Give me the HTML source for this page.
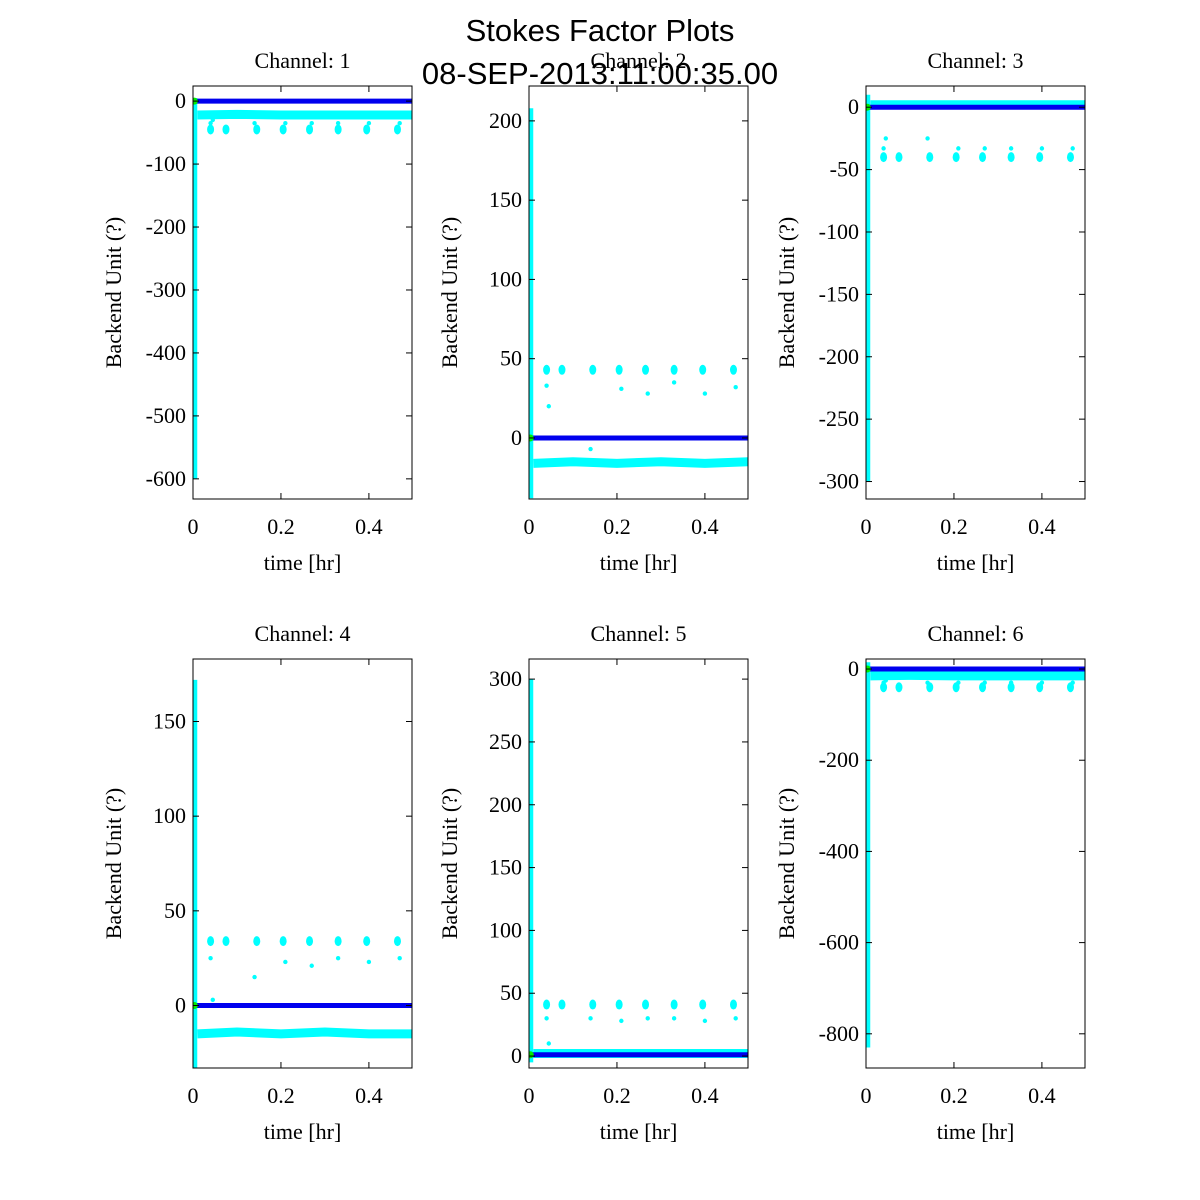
<!DOCTYPE html>
<html><head><meta charset="utf-8"><style>
body{margin:0;background:#fff;}
svg{display:block;}
</style></head><body>
<svg id="chart" width="1200" height="1200" viewBox="0 0 1200 1200" xmlns="http://www.w3.org/2000/svg">
<rect width="1200" height="1200" fill="#fff"/>
<text x="600" y="41" text-anchor="middle" font-family="Liberation Sans, sans-serif" font-size="31">Stokes Factor Plots</text>
<g id="panels"></g>
<text x="600" y="84" text-anchor="middle" font-family="Liberation Sans, sans-serif" font-size="31">08-SEP-2013:11:00:35.00</text>
</svg>
<script>
const channels = ["Channel: 1","Channel: 2","Channel: 3","Channel: 4","Channel: 5","Channel: 6"];
const yMins = [-632,-38.5,-314,-33,-9.5,-875];
const yMaxs = [24,222,17,183,316,22];
const yTicks = [[0,-100,-200,-300,-400,-500,-600],[200,150,100,50,0],[0,-50,-100,-150,-200,-250,-300],[150,100,50,0],[300,250,200,150,100,50,0],[0,-200,-400,-600,-800]];
const xTicks = [0,0.2,0.4];
const blueLevel = [0,0,0,0,1,0];
const baseTimes = [0.01,0.1,0.2,0.3,0.4,0.5];
const baseVals = [[-22,-21,-22,-22,-22,-22],[-16,-15,-16,-15,-16,-15],[2,2,2,2,2,2],[-15,-14,-15,-14,-15,-15],[2,2,2,2,2,2],[-15,-14,-15,-15,-15,-15]];
const spikeTop = [5,208,10,172,300,15];
const spikeBot = [-600,-38,-300,-33,-5,-830];
const clusterTimes = [0.04,0.075,0.145,0.205,0.265,0.33,0.395,0.465];
const clusterVals = [-45,43,-40,34,41,-40];
const outlierTimes = [0.04,0.045,0.14,0.21,0.27,0.33,0.4,0.47];
const outlierVals = [[-35,-30,-35,-35,-35,-35,-35,-35],[33,20,-7,31,28,35,28,32],[-33,-25,-25,-33,-33,-33,-33,-33],[25,3,15,23,21,25,23,25],[30,10,30,28,30,30,28,30],[-30,-25,-30,-30,-30,-30,-30,-30]];
const xMin=0, xMax=0.498;
const boxX=[193,529,866], boxW=219;
const boxY=[86,659], boxH=[413,409];
const NS="http://www.w3.org/2000/svg";
const root=document.getElementById('panels');
function mk(tag,attrs,parent){const e=document.createElementNS(NS,tag);for(const k in attrs)e.setAttribute(k,attrs[k]);parent.appendChild(e);return e;}
const serif="Liberation Serif, serif";
channels.forEach((ch,i)=>{
  const col=i%3,row=Math.floor(i/3);
  const L=boxX[col],T=boxY[row],W=boxW,H=boxH[row];
  const sx=v=>L+(v-xMin)/(xMax-xMin)*W;
  const sy=v=>T+(yMaxs[i]-v)/(yMaxs[i]-yMins[i])*H;
  const g=mk('g',{},root);
  
  
  const t=mk('text',{x:L+W/2,y:T-18,'text-anchor':'middle','font-family':serif,'font-size':22},g);
  
  
  t.textContent=ch;
  const clip='clip'+i;
  const cp=mk('clipPath',{id:clip},g);mk('rect',{x:L,y:T,width:W,height:H},cp);
  const pg=mk('g',{'clip-path':'url(#'+clip+')'},g);
  const pts=baseTimes.map((tt,k)=>sx(tt)+','+sy(baseVals[i][k])).join(' ');
  const bl=mk('polyline',{points:pts,fill:'none',stroke:'#00ffff','stroke-width':9},pg);
  
  
  const sp=mk('line',{x1:sx(0.004),x2:sx(0.004),y1:sy(spikeTop[i]),y2:sy(spikeBot[i]),stroke:'#00ffff','stroke-width':5},pg);
  
  
  clusterTimes.forEach(ct=>{
    const e=mk('ellipse',{cx:sx(ct),cy:sy(clusterVals[i]),rx:3.5,ry:5,fill:'#00ffff'},pg);
    
    
  });
  outlierTimes.forEach((ot,k)=>{
    const e=mk('circle',{cx:sx(ot),cy:sy(outlierVals[i][k]),r:2.2,fill:'#00ffff'},pg);
    
    
  });
  const bline=mk('line',{x1:sx(0.003),x2:L+W,y1:sy(blueLevel[i]),y2:sy(blueLevel[i]),stroke:'#0000ee','stroke-width':5},pg);
  
  
  const gm=mk('circle',{cx:sx(0.003),cy:sy(blueLevel[i]),r:3.5,fill:'#00ee00'},pg);
  
  
  const fr=mk('rect',{x:L,y:T,width:W,height:H,fill:'none',stroke:'#000','stroke-width':1},g);
  
  
  yTicks[i].forEach(v=>{
    const y=sy(v);
    mk('line',{x1:L,x2:L+6,y1:y,y2:y,stroke:'#000'},g);
    mk('line',{x1:L+W-6,x2:L+W,y1:y,y2:y,stroke:'#000'},g);
    const tl=mk('text',{x:L-7,y:y+7,'text-anchor':'end','font-family':serif,'font-size':22},g);
    
    
    tl.textContent=v;
  });
  xTicks.forEach(v=>{
    const x=sx(v);
    mk('line',{x1:x,x2:x,y1:T+H,y2:T+H-6,stroke:'#000'},g);
    mk('line',{x1:x,x2:x,y1:T,y2:T+6,stroke:'#000'},g);
    const tl=mk('text',{x:x,y:T+H+35,'text-anchor':'middle','font-family':serif,'font-size':22},g);
    
    
    tl.textContent=v===0?'0':String(v);
  });
  const xl=mk('text',{x:L+W/2,y:T+H+71,'text-anchor':'middle','font-family':serif,'font-size':22},g);
  
  
  xl.textContent='time [hr]';
  const yc=T+H/2, ylx=L-72;
  const yl=mk('text',{x:ylx,y:yc,'text-anchor':'middle','font-family':serif,'font-size':22,transform:'rotate(-90 '+ylx+' '+yc+')'},g);
  
  
  yl.textContent='Backend Unit (?)';
});
</script>
</body></html>
